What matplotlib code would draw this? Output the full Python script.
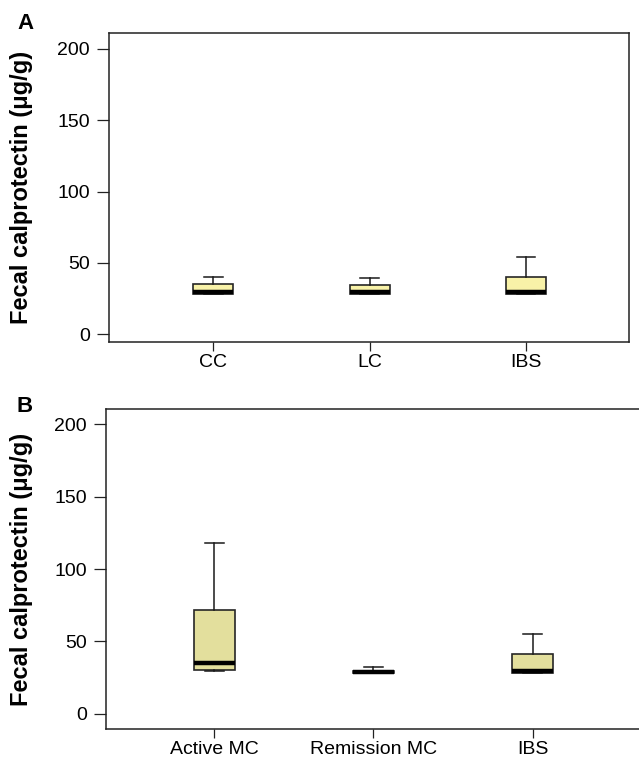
import matplotlib
matplotlib.use("Agg")
import matplotlib.pyplot as plt

plt.rcParams['font.family'] = ['Liberation Sans', 'DejaVu Sans']

# Panel A data
cats_a = ["CC", "LC", "IBS"]
a_whislo = [28, 28, 28]
a_q1 = [28, 28, 28]
a_med = [29.5, 29.5, 29.5]
a_q3 = [35, 34.5, 40]
a_whishi = [40, 39.5, 54.5]

# Panel B data
cats_b = ["Active MC", "Remission MC", "IBS"]
b_whislo = [29.3, 28, 28]
b_q1 = [30, 28, 28]
b_med = [34.8, 28.7, 29.3]
b_q3 = [71.5, 29.4, 41]
b_whishi = [118, 32.5, 55]

yticks = [0, 50, 100, 150, 200]
ylabel = "Fecal calprotectin (\u03bcg/g)"

W, H = 639, 764
fig = plt.figure(figsize=(W / 100, H / 100), dpi=100)


def make_stats(cats, lo, q1, med, q3, hi):
    return [dict(label=c, whislo=l, q1=a, med=m, q3=b, whishi=h, fliers=[])
            for c, l, a, m, b, h in zip(cats, lo, q1, med, q3, hi)]


def panel(rect, cats, stats, fill, letter, letter_y, ylim, xlim, right_spine=True):
    ax = fig.add_axes(rect)
    pos = list(range(1, len(cats) + 1))
    ax.bxp(stats, positions=pos, widths=0.256, patch_artist=True,
           showfliers=False, capwidths=0.12,
           boxprops=dict(facecolor=fill, edgecolor="#262626", linewidth=1.2),
           medianprops=dict(color="black", linewidth=3.2, solid_capstyle="butt"),
           whiskerprops=dict(color="#1a1a1a", linewidth=1.1),
           capprops=dict(color="#1a1a1a", linewidth=1.1))
    ax.set_xlim(*xlim)
    ax.set_ylim(*ylim)
    ax.set_yticks(yticks)
    ax.set_yticklabels([str(v) for v in yticks])
    ax.set_xticks(pos)
    ax.set_xticklabels(cats)
    ax.tick_params(axis="y", labelsize=14, length=8.6, width=0.9, pad=5,
                   color="#222222")
    ax.tick_params(axis="x", labelsize=14, length=6.5, width=0.9, pad=2,
                   color="#222222")
    for s in ax.spines.values():
        s.set_linewidth(1.1)
        s.set_color("#222222")
    if not right_spine:
        ax.spines["right"].set_visible(False)
    ax.set_ylabel(ylabel, fontsize=17, fontweight="bold")
    ax.yaxis.set_label_coords(22 / W, rect[1] + rect[3] / 2, transform=fig.transFigure)
    ax.yaxis.label.set_va("center")
    fig.text(25 / W, 1 - letter_y / H, letter, fontsize=16, fontweight="bold",
             ha="center", va="center")
    return ax


stats_a = make_stats(cats_a, a_whislo, a_q1, a_med, a_q3, a_whishi)
stats_b = make_stats(cats_b, b_whislo, b_q1, b_med, b_q3, b_whishi)

rect_a = [109 / W, 1 - 341.7 / H, (628.7 - 109) / W, (341.7 - 32.7) / H]
rect_b = [106 / W, 1 - 729 / H, (W - 106 + 5) / W, (729 - 409.3) / H]

panel(rect_a, cats_a, stats_a, "#f8f2a8", "A", 23.3, (-5.2, 211.4), (0.333, 3.657))
panel(rect_b, cats_b, stats_b, "#e3df9d", "B", 406.7, (-10.5, 210.4), (0.32, 3.70),
      right_spine=False)

fig.savefig("out.png", dpi=100)
